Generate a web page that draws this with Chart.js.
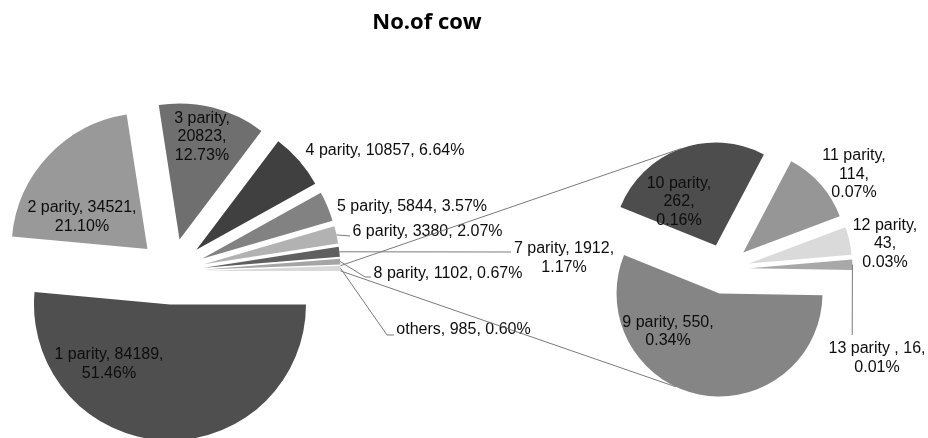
<!DOCTYPE html>
<html><head><meta charset="utf-8">
<script src="https://cdn.jsdelivr.net/npm/chart.js@4.4.1/dist/chart.umd.min.js"></script>
<style>
html,body{margin:0;padding:0;background:#fff;overflow:hidden;width:928px;height:438px;}
#wrap{position:relative;width:928px;height:438px;overflow:hidden;background:#fff;}
canvas{position:absolute;left:0;top:0;}
#title{position:absolute;left:0;top:5px;width:854px;text-align:center;font:bold 22px "Open Sans",sans-serif;line-height:30px;color:#000;}
</style></head><body>
<div id="wrap">
<canvas id="main" width="928" height="438"></canvas>
<canvas id="sub" width="928" height="438"></canvas>
<div id="title"></div>
</div>
<script>
// ---------- data ----------
const chartTitle = 'No.of cow';
const mainCategories = ['1 parity','2 parity','3 parity','4 parity','5 parity','6 parity','7 parity','8 parity','others'];
const mainValues = [84189, 34521, 20823, 10857, 5844, 3380, 1912, 1102, 985];
const subCategories = ['9 parity','10 parity','11 parity','12 parity','13 parity '];
const subValues = [550, 262, 114, 43, 16];

// ---------- styles ----------
const mainColors = ['#4f4f4f','#999999','#6f6f6f','#404040','#828282','#b2b2b2','#5f5f5f','#a5a5a5','#d9d9d9'];
const subColors = ['#858585','#4d4d4d','#969696','#dadada','#a8a8a8'];
const labelFont = '16px "Liberation Sans", Arial, sans-serif';
const labelColor = '#0d0d0d';
const lineColor = '#7a7a7a';
const lineHeight = 18.5;

// label layout: offsets from pie centre (px); wrap = number of text lines
const mainLabelLayout = [
  {dx:-62.5, dy:92.5, wrap:2},
  {dx:-89.5, dy:-54.5, wrap:2},
  {dx:30.5, dy:-134.5, wrap:3},
  {dx:213.5, dy:-120.5, wrap:1},
  {dx:240.5, dy:-64.5, wrap:1},
  {dx:256, dy:-39.5, wrap:1, leader:[[178.5,-35.5]]},
  {dx:392.5, dy:-13.5, wrap:2, leader:[[339.5,-19.5]]},
  {dx:276.5, dy:2.5, wrap:1, leader:[[193.5,5.5],[199.5,5.5]]},
  {dx:292, dy:58.5, wrap:1, leader:[[215.5,63.5],[222.5,63.5]]}
];
const subLabelLayout = [
  {dx:-56.5, dy:62.5, wrap:2},
  {dx:-45.5, dy:-67, wrap:3},
  {dx:129.5, dy:-94.5, wrap:3},
  {dx:160.5, dy:-25, wrap:3},
  {dx:152.5, dy:89, wrap:2, leader:[[127.7,66]]}
];
const connectorAngles = [250, 115]; // degrees on the secondary pie

document.getElementById('title').textContent = chartTitle;

const grandTotal = mainValues.reduce((a, b) => a + b, 0);
const pct = v => (v / grandTotal * 100).toFixed(2) + '%';

function arcGeom(arc, dist) {
  const p = arc.getProps(['x','y','startAngle','endAngle','outerRadius'], true);
  const mid = (p.startAngle + p.endAngle) / 2;
  const ax = p.x + Math.cos(mid) * dist, ay = p.y + Math.sin(mid) * dist;
  return Object.assign({}, p, {mid, ax, ay,
    at: a => [ax + Math.cos(a) * p.outerRadius, ay + Math.sin(a) * p.outerRadius]});
}

function drawLabels(chart, dist, names, values, layout) {
  const ctx = chart.ctx;
  const meta = chart.getDatasetMeta(0);
  ctx.save();
  ctx.font = labelFont;
  ctx.fillStyle = labelColor;
  ctx.textAlign = 'center';
  ctx.textBaseline = 'middle';
  ctx.strokeStyle = lineColor;
  ctx.lineWidth = 1;
  meta.data.forEach((arc, i) => {
    const L = layout[i];
    const g = arcGeom(arc, dist);
    const name = names[i], v = String(values[i]), p = pct(values[i]);
    let lines;
    if (L.wrap === 1) lines = [name + ', ' + v + ', ' + p];
    else if (L.wrap === 2) lines = [name + ', ' + v + ',', p];
    else lines = [name + ',', v + ',', p];
    if (L.leader) {
      const s = g.at(g.mid);
      ctx.beginPath();
      ctx.moveTo(s[0], s[1]);
      L.leader.forEach(pt => ctx.lineTo(g.x + pt[0], g.y + pt[1]));
      ctx.stroke();
    }
    const cx = g.x + L.dx, cy = g.y + L.dy;
    lines.forEach((t, k) => ctx.fillText(t, cx, cy + (k - (lines.length - 1) / 2) * lineHeight));
  });
  ctx.restore();
}

function piePlugin(dist, names, values, layout, extra) {
  return {
    id: 'pieDecor',
    beforeDatasetDraw(chart, args) {
      const ctx = chart.ctx;
      args.meta.data.forEach(arc => {
        const g = arcGeom(arc, dist);
        ctx.save();
        ctx.translate(g.ax - g.x, g.ay - g.y);
        arc.draw(ctx);
        ctx.restore();
      });
      return false;
    },
    afterDraw(chart) {
      drawLabels(chart, dist, names, values, layout);
      if (extra) extra(chart);
    }
  };
}

function pieConfig(cats, vals, colors, rotation, radius, padding, plugin) {
  return {
    type: 'pie',
    data: {labels: cats, datasets: [{data: vals, backgroundColor: colors, borderWidth: 0}]},
    options: {
      responsive: false, animation: false, rotation: rotation, radius: radius,
      layout: {padding: padding},
      plugins: {legend: {display: false}, tooltip: {enabled: false}, title: {display: false}}
    },
    plugins: [plugin]
  };
}

const MAIN_EXPLODE = 33, SUB_EXPLODE = 25;
const mainChart = new Chart(document.getElementById('main'),
  pieConfig(mainCategories, mainValues, mainColors, 90, 136,
    {left: 0, right: 585, top: 105, bottom: 0},
    piePlugin(MAIN_EXPLODE, mainCategories, mainValues, mainLabelLayout)));

const subChart = new Chart(document.getElementById('sub'),
  pieConfig(subCategories, subValues, subColors, 91, 103,
    {left: 521, right: 0, top: 100, bottom: 0},
    piePlugin(SUB_EXPLODE, subCategories, subValues, subLabelLayout, chart => {
      const ctx = chart.ctx;
      const mArcs = mainChart.getDatasetMeta(0).data;
      const others = arcGeom(mArcs[mArcs.length - 1], MAIN_EXPLODE);
      const sources = [others.at(others.startAngle), others.at(others.endAngle)];
      const sArcs = chart.getDatasetMeta(0).data;
      ctx.save();
      ctx.strokeStyle = lineColor;
      ctx.lineWidth = 1;
      connectorAngles.forEach((deg, k) => {
        const a = deg * Math.PI / 180;
        const arc = sArcs.find(el => a >= el.startAngle && a <= el.endAngle) || sArcs[0];
        const t = arcGeom(arc, SUB_EXPLODE).at(a);
        ctx.beginPath();
        ctx.moveTo(sources[k][0], sources[k][1]);
        ctx.lineTo(t[0], t[1]);
        ctx.stroke();
      });
      ctx.restore();
    })));
</script>
</body></html>
